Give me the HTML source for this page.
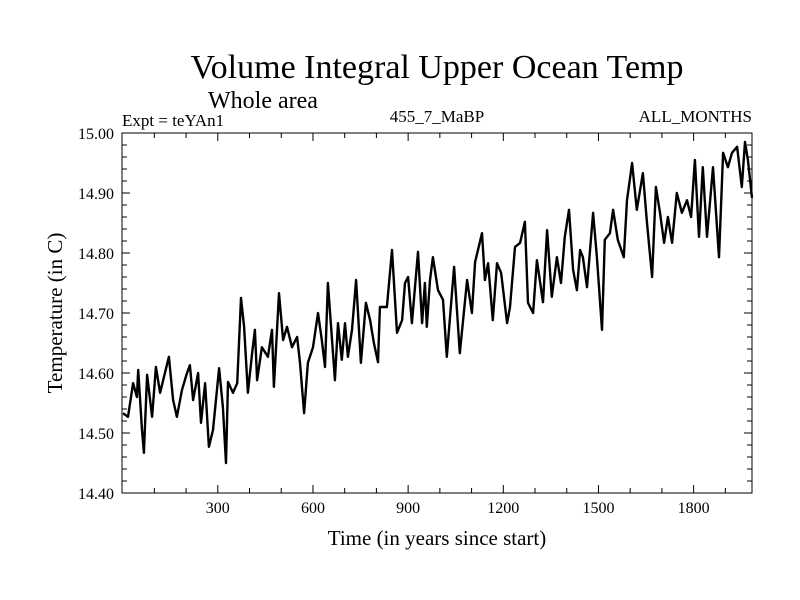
<!DOCTYPE html>
<html><head><meta charset="utf-8"><style>
body{margin:0;background:#fff}
svg{display:block;font-family:"Liberation Serif",serif}
</style></head><body>
<svg id="chart" width="800" height="600">
<text x="437" y="78" font-size="34" text-anchor="middle">Volume Integral Upper Ocean Temp</text>
<text x="208" y="108" font-size="24">Whole area</text>
<text x="122" y="126" font-size="17">Expt = teYAn1</text>
<text x="437" y="122" font-size="17" text-anchor="middle">455_7_MaBP</text>
<text x="752" y="122" font-size="17" text-anchor="end">ALL_MONTHS</text>
<text x="437" y="545" font-size="21" text-anchor="middle">Time (in years since start)</text>
<text transform="translate(62,313) rotate(-90)" font-size="21" text-anchor="middle">Temperature (in C)</text>
<g id="ticks"></g>
<path id="series" fill="none" stroke="#000" stroke-width="2.4" stroke-linejoin="round"></path>
<rect x="122" y="133" width="630" height="360" fill="none" stroke="#000" stroke-width="1"></rect>
</svg>
<script>
const years=[1,17,33,45,49,61,67,77,93,105,118,130,146,159,171,187,203,212,222,238,247,260,272,285,304,316,326,332,348,361,373,383,395,408,417,424,439,458,471,477,493,506,518,534,550,559,572,584,600,616,628,638,647,663,669,679,691,701,710,723,736,751,767,780,792,805,811,833,849,865,881,890,900,912,931,944,953,959,969,978,994,1010,1022,1045,1063,1086,1101,1111,1133,1142,1152,1167,1180,1193,1212,1221,1237,1253,1268,1278,1294,1306,1325,1338,1353,1369,1382,1394,1407,1420,1432,1442,1451,1464,1483,1495,1511,1520,1536,1546,1561,1580,1590,1606,1621,1640,1653,1669,1681,1694,1707,1719,1732,1747,1763,1779,1792,1804,1817,1829,1842,1861,1880,1893,1908,1921,1937,1952,1962,1971,1984];
const temps=[14.533,14.527,14.583,14.560,14.605,14.505,14.467,14.597,14.527,14.610,14.567,14.593,14.627,14.555,14.527,14.572,14.600,14.613,14.555,14.600,14.517,14.583,14.477,14.505,14.608,14.543,14.450,14.585,14.567,14.583,14.725,14.677,14.567,14.633,14.672,14.588,14.643,14.627,14.672,14.577,14.733,14.655,14.677,14.643,14.660,14.617,14.533,14.617,14.643,14.700,14.655,14.610,14.750,14.633,14.588,14.683,14.622,14.683,14.627,14.672,14.755,14.617,14.717,14.688,14.650,14.618,14.710,14.710,14.805,14.667,14.688,14.750,14.760,14.683,14.802,14.683,14.750,14.677,14.755,14.793,14.738,14.722,14.627,14.777,14.633,14.755,14.700,14.785,14.833,14.755,14.783,14.688,14.783,14.767,14.683,14.710,14.810,14.817,14.852,14.717,14.700,14.788,14.718,14.838,14.727,14.793,14.750,14.827,14.872,14.772,14.738,14.805,14.793,14.743,14.867,14.793,14.672,14.822,14.833,14.872,14.822,14.793,14.888,14.950,14.872,14.933,14.850,14.760,14.910,14.867,14.817,14.860,14.817,14.900,14.867,14.888,14.860,14.955,14.827,14.943,14.827,14.943,14.793,14.967,14.943,14.967,14.977,14.910,14.985,14.955,14.892];
const xTickLabels=[300,600,900,1200,1500,1800];
const yTickLabels=["14.40","14.50","14.60","14.70","14.80","14.90","15.00"];

const X0=122,X1=752,Y0=133,Y1=493,XMIN=-2,XMAX=1984,YMIN=14.4,YMAX=15.0;
const sx=v=>X0+(v-XMIN)/(XMAX-XMIN)*(X1-X0);
const sy=v=>Y1-(v-YMIN)/(YMAX-YMIN)*(Y1-Y0);
const NS="http://www.w3.org/2000/svg";
const g=document.getElementById('ticks');
let d="";
for(let yr=100;yr<XMAX;yr+=100){
  const x=sx(yr),len=(yr%300===0)?8:5;
  d+=`M${x},${Y1}v${-len}M${x},${Y0}v${len}`;
}
for(let i=0;i<=30;i++){
  const v=YMIN+i*0.02,y=sy(v),len=(i%5===0)?8:5;
  d+=`M${X0},${y}h${len}M${X1},${y}h${-len}`;
}
const tp=document.createElementNS(NS,'path');
tp.setAttribute('d',d);tp.setAttribute('stroke','#000');tp.setAttribute('stroke-width','1');


g.appendChild(tp);
xTickLabels.forEach(v=>{
  const t=document.createElementNS(NS,'text');
  t.setAttribute('x',sx(v));t.setAttribute('y',513);t.setAttribute('font-size','16');t.setAttribute('text-anchor','middle');
  t.textContent=v;
  
  
  g.appendChild(t);
});
yTickLabels.forEach(s=>{
  const t=document.createElementNS(NS,'text');
  t.setAttribute('x',114);t.setAttribute('y',sy(parseFloat(s))+6);t.setAttribute('font-size','16');t.setAttribute('text-anchor','end');
  t.textContent=s;
  
  
  g.appendChild(t);
});
document.getElementById('series').setAttribute('d',years.map((v,i)=>(i?'L':'M')+sx(v).toFixed(1)+','+sy(temps[i]).toFixed(1)).join(''));
</script>
</body></html>
